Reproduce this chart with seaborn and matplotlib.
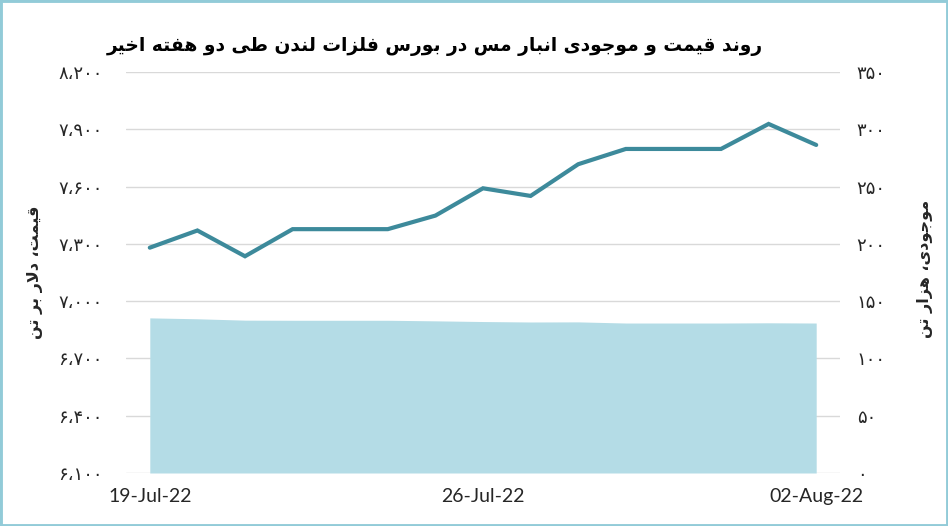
import pandas as pd
import matplotlib
matplotlib.use('Agg')
import matplotlib.pyplot as plt
import seaborn as sns
from matplotlib.patches import Rectangle

sns.set_style('white')
plt.rcParams['font.family'] = ['Lato', 'DejaVu Sans']

# data
dates = ['19-Jul-22', '20-Jul-22', '21-Jul-22', '22-Jul-22', '23-Jul-22',
         '24-Jul-22', '25-Jul-22', '26-Jul-22', '27-Jul-22', '28-Jul-22',
         '29-Jul-22', '30-Jul-22', '31-Jul-22', '01-Aug-22', '02-Aug-22']
price = [7280, 7370, 7235, 7377, 7377, 7377, 7448, 7591, 7551, 7717,
         7797, 7797, 7797, 7928, 7818]
stocks = [135.4, 134.6, 133.4, 133.3, 133.3, 133.3, 132.8, 132.2, 131.8, 131.9,
          130.9, 130.9, 130.9, 131.1, 130.9]
price_ticks = [6100, 6400, 6700, 7000, 7300, 7600, 7900, 8200]
stock_ticks = [0, 50, 100, 150, 200, 250, 300, 350]
shown_dates = ['19-Jul-22', '26-Jul-22', '02-Aug-22']

title = 'روند قیمت و موجودی انبار مس در بورس فلزات لندن طی دو هفته اخیر'
left_label = 'قیمت، دلار بر تن'
right_label = 'موجودی، هزار تن'

# minimal arabic/persian shaping: (isolated, final, initial, medial)
FORMS = {
    'ا': ('\uFE8D', '\uFE8E', None, None),
    'ب': ('\uFE8F', '\uFE90', '\uFE91', '\uFE92'),
    'ت': ('\uFE95', '\uFE96', '\uFE97', '\uFE98'),
    'ج': ('\uFE9D', '\uFE9E', '\uFE9F', '\uFEA0'),
    'خ': ('\uFEA5', '\uFEA6', '\uFEA7', '\uFEA8'),
    'د': ('\uFEA9', '\uFEAA', None, None),
    'ر': ('\uFEAD', '\uFEAE', None, None),
    'ز': ('\uFEAF', '\uFEB0', None, None),
    'س': ('\uFEB1', '\uFEB2', '\uFEB3', '\uFEB4'),
    'ط': ('\uFEC1', '\uFEC2', '\uFEC3', '\uFEC4'),
    'ف': ('\uFED1', '\uFED2', '\uFED3', '\uFED4'),
    'ق': ('\uFED5', '\uFED6', '\uFED7', '\uFED8'),
    'ل': ('\uFEDD', '\uFEDE', '\uFEDF', '\uFEE0'),
    'م': ('\uFEE1', '\uFEE2', '\uFEE3', '\uFEE4'),
    'ن': ('\uFEE5', '\uFEE6', '\uFEE7', '\uFEE8'),
    'ه': ('\uFEE9', '\uFEEA', '\uFEEB', '\uFEEC'),
    'و': ('\uFEED', '\uFEEE', None, None),
    'ی': ('\uFBFC', '\uFBFD', '\uFBFE', '\uFBFF'),
}


def shape(text):
    res = []
    i = 0
    while i < len(text):
        c = text[i]
        if c not in FORMS:
            res.append(c)
            i += 1
            continue
        prev = text[i - 1] if i > 0 else None
        join_prev = prev in FORMS and FORMS[prev][2] is not None
        if c == 'ل' and i + 1 < len(text) and text[i + 1] == 'ا':
            res.append('\uFEFC' if join_prev else '\uFEFB')
            i += 2
            continue
        nxt = text[i + 1] if i + 1 < len(text) else None
        join_next = FORMS[c][2] is not None and nxt in FORMS
        iso, fin, ini, med = FORMS[c]
        if join_prev and join_next:
            res.append(med)
        elif join_prev:
            res.append(fin)
        elif join_next:
            res.append(ini)
        else:
            res.append(iso)
        i += 1
    return ''.join(reversed(res))


def fa_num(v):
    return f'{v:,}'.translate(str.maketrans('0123456789,', '۰۱۲۳۴۵۶۷۸۹،'))


df = pd.DataFrame({'day': range(len(dates)), 'date': dates,
                   'price': price, 'stocks': stocks})

fig = plt.figure(figsize=(9.48, 5.26), dpi=100)
ax = fig.add_axes([126 / 948, 53 / 526, 714 / 948, 401 / 526])
ax2 = ax.twinx()

# inventory area on the right axis
ax2.fill_between(df['day'], df['stocks'], color='#b4dce6', lw=0)
ax2.set_ylim(0, 350)
ax2.set_yticks(stock_ticks)
ax2.set_yticklabels([fa_num(v) for v in stock_ticks], family='DejaVu Sans',
                    fontsize=13, color='#262626')
ax2.tick_params(axis='y', length=0, pad=12)

# price line on the left axis
sns.lineplot(data=df, x='day', y='price', ax=ax, color='#3d8a9b', lw=3,
             solid_joinstyle='miter')
ax.set_ylim(6100, 8200)
ax.set_yticks(price_ticks)
ax.set_yticklabels([fa_num(v) for v in price_ticks], family='DejaVu Sans',
                   fontsize=13, color='#262626')
ax.tick_params(axis='y', length=0, pad=17)
ax.grid(axis='y', color='#d9d9d9', lw=1)
ax.set_xlim(-0.5, len(dates) - 0.5)
ax.set_xticks([dates.index(d) for d in shown_dates])
ax.set_xticklabels(shown_dates, fontsize=14, color='#262626')
ax.tick_params(axis='x', length=0, pad=11)
ax.set_xlabel('')
ax.set_ylabel('')

for a in (ax, ax2):
    for s in a.spines.values():
        s.set_visible(False)

fig.text(435 / 948, 1 - 46 / 526, shape(title), ha='center', va='center',
         fontsize=13.4, fontweight='bold', family='DejaVu Sans', color='black')
fig.text(35 / 948, 1 - 272 / 526, shape(left_label), rotation=90,
         ha='center', va='center', fontsize=11.5, fontweight='bold',
         family='DejaVu Sans')
fig.text(925 / 948, 1 - 269 / 526, shape(right_label), rotation=90,
         ha='center', va='center', fontsize=11.5, fontweight='bold',
         family='DejaVu Sans')

fig.patches.append(Rectangle((0, 0), 1, 1, transform=fig.transFigure,
                             fill=False, edgecolor='#92cbd8', lw=3.5))

plt.savefig('out.png', dpi=100)
